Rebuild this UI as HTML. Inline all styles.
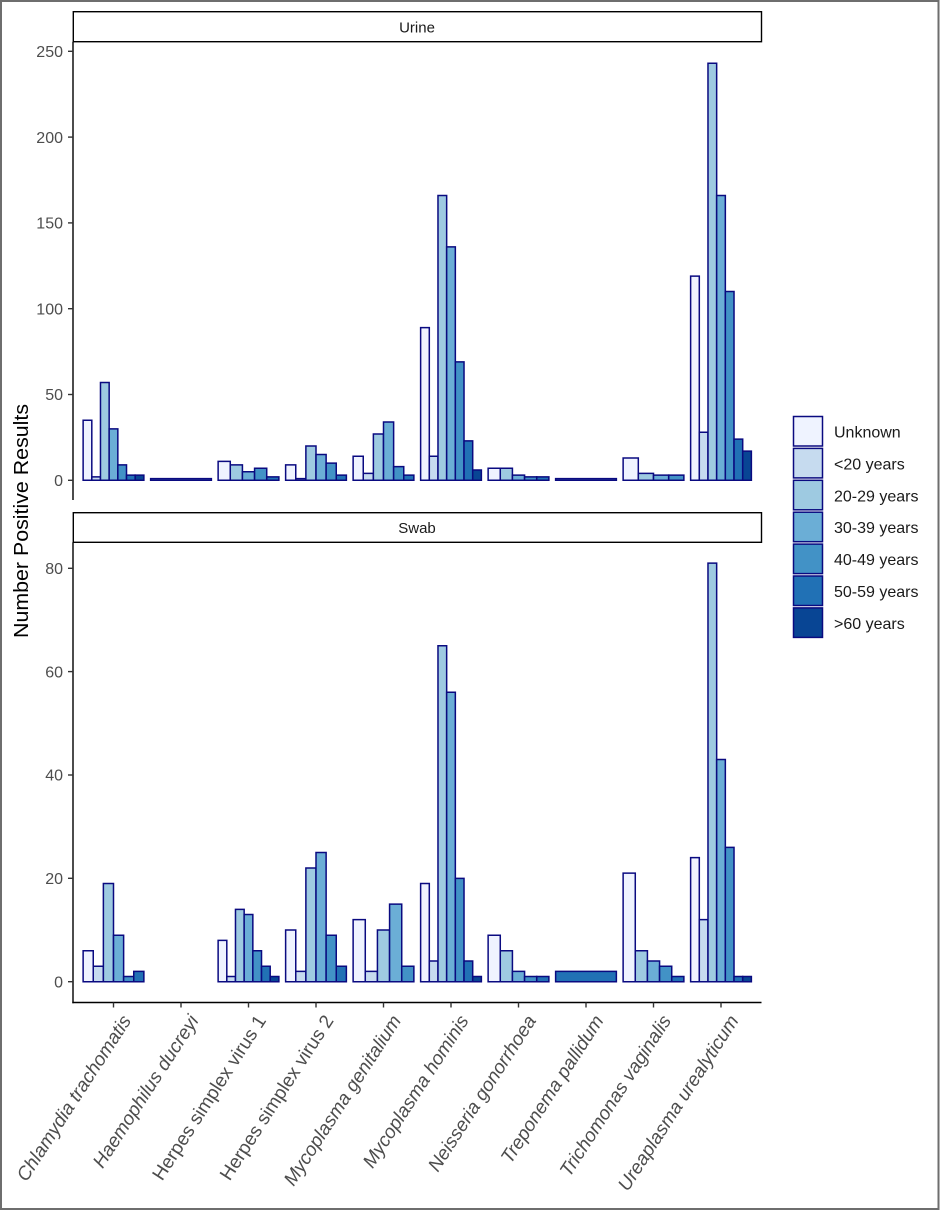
<!DOCTYPE html>
<html><head><meta charset="utf-8"><style>
html,body{margin:0;padding:0;background:#fff;}
svg{display:block;}
.c0{fill:#eff3ff}.c1{fill:#c6dbef}.c2{fill:#9ecae1}.c3{fill:#6baed6}.c4{fill:#4292c6}.c5{fill:#2171b5}.c6{fill:#084594}
.bars rect{stroke:#0a0a80;stroke-width:1.5;vector-effect:non-scaling-stroke;}
.tl{font-family:"Liberation Sans",sans-serif;font-size:16px;fill:#4d4d4d;text-anchor:end;}
.xl{font-family:"Liberation Sans",sans-serif;font-size:19px;fill:#4d4d4d;text-anchor:end;}
.it{font-style:italic;}
.lg{font-family:"Liberation Sans",sans-serif;font-size:16px;fill:#1a1a1a;}
.st{font-family:"Liberation Sans",sans-serif;font-size:15px;fill:#1a1a1a;text-anchor:middle;}
</style></head><body>
<svg width="942" height="1211" viewBox="0 0 942 1211" xmlns="http://www.w3.org/2000/svg">
<rect x="0" y="0" width="942" height="1211" fill="#fff"/>
<rect x="1" y="1" width="937.5" height="1208" fill="none" stroke="#6e6e6e" stroke-width="2"/>

<!-- Strips -->
<rect x="73.3" y="11.7" width="688.2" height="30" fill="#fff" stroke="#000" stroke-width="1.4"/>
<text class="st" x="417" y="32.5">Urine</text>
<rect x="73.3" y="512.7" width="688.2" height="29.6" fill="#fff" stroke="#000" stroke-width="1.4"/>
<text class="st" x="417" y="533">Swab</text>

<!-- Axes -->
<line x1="73" y1="41.7" x2="73" y2="500" stroke="#000" stroke-width="1.4"/>
<line x1="73" y1="542.3" x2="73" y2="1003.2" stroke="#000" stroke-width="1.4"/>
<line x1="72.3" y1="1002.5" x2="761.5" y2="1002.5" stroke="#000" stroke-width="1.4"/>

<!-- y ticks -->
<g stroke="#333" stroke-width="1.4">
<line x1="68" y1="480.3" x2="73" y2="480.3"/>
<line x1="68" y1="394.5" x2="73" y2="394.5"/>
<line x1="68" y1="308.7" x2="73" y2="308.7"/>
<line x1="68" y1="222.9" x2="73" y2="222.9"/>
<line x1="68" y1="137.1" x2="73" y2="137.1"/>
<line x1="68" y1="51.3" x2="73" y2="51.3"/>
<line x1="68" y1="981.7" x2="73" y2="981.7"/>
<line x1="68" y1="878.3" x2="73" y2="878.3"/>
<line x1="68" y1="775.0" x2="73" y2="775.0"/>
<line x1="68" y1="671.6" x2="73" y2="671.6"/>
<line x1="68" y1="568.3" x2="73" y2="568.3"/>
</g>
<text class="tl" x="63" y="486">0</text>
<text class="tl" x="63" y="400.2">50</text>
<text class="tl" x="63" y="314.4">100</text>
<text class="tl" x="63" y="228.6">150</text>
<text class="tl" x="63" y="142.8">200</text>
<text class="tl" x="63" y="57">250</text>
<text class="tl" x="63" y="987.4">0</text>
<text class="tl" x="63" y="884">20</text>
<text class="tl" x="63" y="780.7">40</text>
<text class="tl" x="63" y="677.3">60</text>
<text class="tl" x="63" y="574">80</text>

<!-- X ticks -->
<g stroke="#333" stroke-width="1.4">
<line x1="113.5" y1="1002.5" x2="113.5" y2="1007.5"/>
<line x1="181" y1="1002.5" x2="181" y2="1007.5"/>
<line x1="248.5" y1="1002.5" x2="248.5" y2="1007.5"/>
<line x1="316" y1="1002.5" x2="316" y2="1007.5"/>
<line x1="383.5" y1="1002.5" x2="383.5" y2="1007.5"/>
<line x1="451" y1="1002.5" x2="451" y2="1007.5"/>
<line x1="518.5" y1="1002.5" x2="518.5" y2="1007.5"/>
<line x1="586" y1="1002.5" x2="586" y2="1007.5"/>
<line x1="653.5" y1="1002.5" x2="653.5" y2="1007.5"/>
<line x1="721" y1="1002.5" x2="721" y2="1007.5"/>
</g>

<!-- X labels -->
<text class="xl it" transform="translate(131.8,1020.5) rotate(-57)">Chlamydia trachomatis</text>
<text class="xl it" transform="translate(199.3,1020.5) rotate(-57)">Haemophilus ducreyi</text>
<text class="xl" transform="translate(266.8,1020.5) rotate(-57)">Herpes simplex virus 1</text>
<text class="xl" transform="translate(334.3,1020.5) rotate(-57)">Herpes simplex virus 2</text>
<text class="xl it" transform="translate(401.8,1020.5) rotate(-57)">Mycoplasma genitalium</text>
<text class="xl it" transform="translate(469.3,1020.5) rotate(-57)">Mycoplasma hominis</text>
<text class="xl it" transform="translate(536.8,1020.5) rotate(-57)">Neisseria gonorrhoea</text>
<text class="xl it" transform="translate(604.3,1020.5) rotate(-57)">Treponema pallidum</text>
<text class="xl it" transform="translate(671.8,1020.5) rotate(-57)">Trichomonas vaginalis</text>
<text class="xl it" transform="translate(739.3,1020.5) rotate(-57)">Ureaplasma urealyticum</text>

<!-- Y title -->
<text transform="translate(28,521) rotate(-90)" font-family="Liberation Sans, sans-serif" font-size="20" fill="#000" text-anchor="middle" textLength="234" lengthAdjust="spacingAndGlyphs">Number Positive Results</text>

<!-- Urine bars -->
<g class="bars" transform="translate(0,480.3) scale(1,-1.716)">
 <g transform="translate(83.125,0)">
  <rect class="c0" x="0" y="0" width="8.679" height="35"/>
  <rect class="c1" x="8.679" y="0" width="8.679" height="2"/>
  <rect class="c2" x="17.357" y="0" width="8.679" height="57"/>
  <rect class="c3" x="26.036" y="0" width="8.679" height="30"/>
  <rect class="c4" x="34.714" y="0" width="8.679" height="9"/>
  <rect class="c5" x="43.393" y="0" width="8.679" height="3"/>
  <rect class="c6" x="52.071" y="0" width="8.679" height="3"/>
 </g>
 <g transform="translate(150.625,0)">
  <rect class="c3" x="0" y="0" width="60.75" height="1"/>
 </g>
 <g transform="translate(218.125,0)">
  <rect class="c0" x="0" y="0" width="12.15" height="11"/>
  <rect class="c2" x="12.15" y="0" width="12.15" height="9"/>
  <rect class="c3" x="24.3" y="0" width="12.15" height="5"/>
  <rect class="c4" x="36.45" y="0" width="12.15" height="7"/>
  <rect class="c5" x="48.6" y="0" width="12.15" height="2"/>
 </g>
 <g transform="translate(285.625,0)">
  <rect class="c0" x="0" y="0" width="10.125" height="9"/>
  <rect class="c1" x="10.125" y="0" width="10.125" height="1"/>
  <rect class="c2" x="20.25" y="0" width="10.125" height="20"/>
  <rect class="c3" x="30.375" y="0" width="10.125" height="15"/>
  <rect class="c4" x="40.5" y="0" width="10.125" height="10"/>
  <rect class="c5" x="50.625" y="0" width="10.125" height="3"/>
 </g>
 <g transform="translate(353.125,0)">
  <rect class="c0" x="0" y="0" width="10.125" height="14"/>
  <rect class="c1" x="10.125" y="0" width="10.125" height="4"/>
  <rect class="c2" x="20.25" y="0" width="10.125" height="27"/>
  <rect class="c3" x="30.375" y="0" width="10.125" height="34"/>
  <rect class="c4" x="40.5" y="0" width="10.125" height="8"/>
  <rect class="c5" x="50.625" y="0" width="10.125" height="3"/>
 </g>
 <g transform="translate(420.625,0)">
  <rect class="c0" x="0" y="0" width="8.679" height="89"/>
  <rect class="c1" x="8.679" y="0" width="8.679" height="14"/>
  <rect class="c2" x="17.357" y="0" width="8.679" height="166"/>
  <rect class="c3" x="26.036" y="0" width="8.679" height="136"/>
  <rect class="c4" x="34.714" y="0" width="8.679" height="69"/>
  <rect class="c5" x="43.393" y="0" width="8.679" height="23"/>
  <rect class="c6" x="52.071" y="0" width="8.679" height="6"/>
 </g>
 <g transform="translate(488.125,0)">
  <rect class="c0" x="0" y="0" width="12.15" height="7"/>
  <rect class="c2" x="12.15" y="0" width="12.15" height="7"/>
  <rect class="c3" x="24.3" y="0" width="12.15" height="3"/>
  <rect class="c4" x="36.45" y="0" width="12.15" height="2"/>
  <rect class="c5" x="48.6" y="0" width="12.15" height="2"/>
 </g>
 <g transform="translate(555.625,0)">
  <rect class="c3" x="0" y="0" width="60.75" height="1"/>
 </g>
 <g transform="translate(623.125,0)">
  <rect class="c0" x="0" y="0" width="15.1875" height="13"/>
  <rect class="c2" x="15.1875" y="0" width="15.1875" height="4"/>
  <rect class="c3" x="30.375" y="0" width="15.1875" height="3"/>
  <rect class="c4" x="45.5625" y="0" width="15.1875" height="3"/>
 </g>
 <g transform="translate(690.625,0)">
  <rect class="c0" x="0" y="0" width="8.679" height="119"/>
  <rect class="c1" x="8.679" y="0" width="8.679" height="28"/>
  <rect class="c2" x="17.357" y="0" width="8.679" height="243"/>
  <rect class="c3" x="26.036" y="0" width="8.679" height="166"/>
  <rect class="c4" x="34.714" y="0" width="8.679" height="110"/>
  <rect class="c5" x="43.393" y="0" width="8.679" height="24"/>
  <rect class="c6" x="52.071" y="0" width="8.679" height="17"/>
 </g>
</g>

<!-- Swab bars -->
<g class="bars" transform="translate(0,981.7) scale(1,-5.168)">
 <g transform="translate(83.125,0)">
  <rect class="c0" x="0" y="0" width="10.125" height="6"/>
  <rect class="c1" x="10.125" y="0" width="10.125" height="3"/>
  <rect class="c2" x="20.25" y="0" width="10.125" height="19"/>
  <rect class="c3" x="30.375" y="0" width="10.125" height="9"/>
  <rect class="c4" x="40.5" y="0" width="10.125" height="1"/>
  <rect class="c5" x="50.625" y="0" width="10.125" height="2"/>
 </g>
 <g transform="translate(218.125,0)">
  <rect class="c0" x="0" y="0" width="8.679" height="8"/>
  <rect class="c1" x="8.679" y="0" width="8.679" height="1"/>
  <rect class="c2" x="17.357" y="0" width="8.679" height="14"/>
  <rect class="c3" x="26.036" y="0" width="8.679" height="13"/>
  <rect class="c4" x="34.714" y="0" width="8.679" height="6"/>
  <rect class="c5" x="43.393" y="0" width="8.679" height="3"/>
  <rect class="c6" x="52.071" y="0" width="8.679" height="1"/>
 </g>
 <g transform="translate(285.625,0)">
  <rect class="c0" x="0" y="0" width="10.125" height="10"/>
  <rect class="c1" x="10.125" y="0" width="10.125" height="2"/>
  <rect class="c2" x="20.25" y="0" width="10.125" height="22"/>
  <rect class="c3" x="30.375" y="0" width="10.125" height="25"/>
  <rect class="c4" x="40.5" y="0" width="10.125" height="9"/>
  <rect class="c5" x="50.625" y="0" width="10.125" height="3"/>
 </g>
 <g transform="translate(353.125,0)">
  <rect class="c0" x="0" y="0" width="12.15" height="12"/>
  <rect class="c1" x="12.15" y="0" width="12.15" height="2"/>
  <rect class="c2" x="24.3" y="0" width="12.15" height="10"/>
  <rect class="c3" x="36.45" y="0" width="12.15" height="15"/>
  <rect class="c4" x="48.6" y="0" width="12.15" height="3"/>
 </g>
 <g transform="translate(420.625,0)">
  <rect class="c0" x="0" y="0" width="8.679" height="19"/>
  <rect class="c1" x="8.679" y="0" width="8.679" height="4"/>
  <rect class="c2" x="17.357" y="0" width="8.679" height="65"/>
  <rect class="c3" x="26.036" y="0" width="8.679" height="56"/>
  <rect class="c4" x="34.714" y="0" width="8.679" height="20"/>
  <rect class="c5" x="43.393" y="0" width="8.679" height="4"/>
  <rect class="c6" x="52.071" y="0" width="8.679" height="1"/>
 </g>
 <g transform="translate(488.125,0)">
  <rect class="c0" x="0" y="0" width="12.15" height="9"/>
  <rect class="c2" x="12.15" y="0" width="12.15" height="6"/>
  <rect class="c3" x="24.3" y="0" width="12.15" height="2"/>
  <rect class="c4" x="36.45" y="0" width="12.15" height="1"/>
  <rect class="c5" x="48.6" y="0" width="12.15" height="1"/>
 </g>
 <g transform="translate(555.625,0)">
  <rect class="c5" x="0" y="0" width="60.75" height="2"/>
 </g>
 <g transform="translate(623.125,0)">
  <rect class="c0" x="0" y="0" width="12.15" height="21"/>
  <rect class="c2" x="12.15" y="0" width="12.15" height="6"/>
  <rect class="c3" x="24.3" y="0" width="12.15" height="4"/>
  <rect class="c4" x="36.45" y="0" width="12.15" height="3"/>
  <rect class="c5" x="48.6" y="0" width="12.15" height="1"/>
 </g>
 <g transform="translate(690.625,0)">
  <rect class="c0" x="0" y="0" width="8.679" height="24"/>
  <rect class="c1" x="8.679" y="0" width="8.679" height="12"/>
  <rect class="c2" x="17.357" y="0" width="8.679" height="81"/>
  <rect class="c3" x="26.036" y="0" width="8.679" height="43"/>
  <rect class="c4" x="34.714" y="0" width="8.679" height="26"/>
  <rect class="c5" x="43.393" y="0" width="8.679" height="1"/>
  <rect class="c6" x="52.071" y="0" width="8.679" height="1"/>
 </g>
</g>

<!-- Legend -->
<g stroke="#0a0a80" stroke-width="1.5">
 <rect class="c0" x="793.5" y="416.5" width="29" height="29.5"/>
 <rect class="c1" x="793.5" y="448.4" width="29" height="29.5"/>
 <rect class="c2" x="793.5" y="480.3" width="29" height="29.5"/>
 <rect class="c3" x="793.5" y="512.2" width="29" height="29.5"/>
 <rect class="c4" x="793.5" y="544.1" width="29" height="29.5"/>
 <rect class="c5" x="793.5" y="576.0" width="29" height="29.5"/>
 <rect class="c6" x="793.5" y="607.9" width="29" height="29.5"/>
</g>
<text class="lg" x="834" y="437.5">Unknown</text>
<text class="lg" x="834" y="469.4">&lt;20 years</text>
<text class="lg" x="834" y="501.3">20-29 years</text>
<text class="lg" x="834" y="533.2">30-39 years</text>
<text class="lg" x="834" y="565.1">40-49 years</text>
<text class="lg" x="834" y="597.0">50-59 years</text>
<text class="lg" x="834" y="628.9">&gt;60 years</text>
</svg>
</body></html>
